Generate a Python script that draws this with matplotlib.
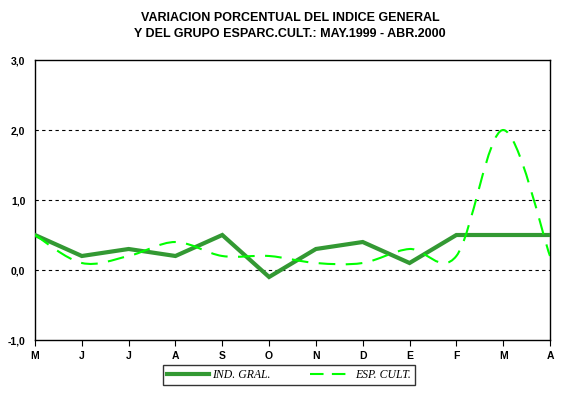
import matplotlib.pyplot as plt
from matplotlib.path import Path
from matplotlib.patches import PathPatch
from matplotlib.lines import Line2D

months = ['M', 'J', 'J', 'A', 'S', 'O', 'N', 'D', 'E', 'F', 'M', 'A']
ind_gral = [0.5, 0.2, 0.3, 0.2, 0.5, -0.1, 0.3, 0.4, 0.1, 0.5, 0.5, 0.5]
esp_cult = [0.5, 0.1, 0.2, 0.4, 0.2, 0.2, 0.1, 0.1, 0.3, 0.2, 2.0, 0.2]
y_ticks = [-1, 0, 1, 2, 3]
y_labels = ['-1,0', '0,0', '1,0', '2,0', '3,0']

SOLID = '#339933'
DASHED = '#00ff00'


def smooth_path(ys):
    """Bezier path through the points, like a spreadsheet 'smoothed line'."""
    xs = list(range(len(ys)))
    pts = list(zip(xs, ys))
    verts = [pts[0]]
    codes = [Path.MOVETO]
    n = len(pts)
    for i in range(n - 1):
        p0 = pts[i - 1] if i > 0 else pts[i]
        p1 = pts[i]
        p2 = pts[i + 1]
        p3 = pts[i + 2] if i + 2 < n else pts[i + 1]
        c1 = (p1[0] + (p2[0] - p0[0]) / 6, p1[1] + (p2[1] - p0[1]) / 6)
        c2 = (p2[0] - (p3[0] - p1[0]) / 6, p2[1] - (p3[1] - p1[1]) / 6)
        verts += [c1, c2, p2]
        codes += [Path.CURVE4] * 3
    return Path(verts, codes)


plt.rcParams['font.family'] = 'Liberation Sans'

fig = plt.figure(figsize=(5.62, 3.94), dpi=100)
ax = fig.add_axes([35 / 562, 54 / 394, 515 / 562, 280 / 394])

# gridlines
for v in [0, 1, 2]:
    ax.axhline(v, color='black', lw=0.8, dashes=(3, 3), zorder=1)

ax.plot(range(len(ind_gral)), ind_gral, color=SOLID, lw=3, zorder=3,
        solid_joinstyle='miter')

patch = PathPatch(smooth_path(esp_cult), fill=False, edgecolor=DASHED,
                  lw=1.5, zorder=4)
patch.set_linestyle((0, (8, 5)))
ax.add_patch(patch)

ax.set_xlim(0, len(months) - 1)
ax.set_ylim(-1, 3)
ax.set_xticks(range(len(months)))
ax.set_xticklabels(months, fontsize=7.5, fontweight='bold')
ax.set_yticks(y_ticks)
ax.set_yticklabels(y_labels, fontsize=7.5, fontweight='bold')
ax.tick_params(axis='y', length=0, pad=7)
ax.tick_params(axis='x', length=4, width=0.8, direction='out', pad=4)
for s in ax.spines.values():
    s.set_linewidth(1)
    s.set_color('black')

fig.suptitle('VARIACION PORCENTUAL DEL INDICE GENERAL\n'
             'Y DEL GRUPO ESPARC.CULT.: MAY.1999 - ABR.2000',
             x=290 / 562, y=0.97, fontsize=9, fontweight='bold',
             linespacing=1.45)

handles = [
    Line2D([], [], color=SOLID, lw=3),
    Line2D([], [], color=DASHED, lw=1.5, dashes=(6.5, 4)),
]
leg = fig.legend(handles, ['IND. GRAL.', 'ESP. CULT.'], ncol=2,
                 loc='center', bbox_to_anchor=(289 / 562, 1 - 375 / 394),
                 frameon=True, fancybox=False, handlelength=3.6,
                 columnspacing=3.4, borderpad=0.3, handletextpad=0.2,
                 prop={'family': 'Liberation Serif', 'style': 'italic', 'size': 8.5})
leg.get_frame().set_edgecolor('black')
leg.get_frame().set_linewidth(1)

fig.savefig('out.png', dpi=100)
